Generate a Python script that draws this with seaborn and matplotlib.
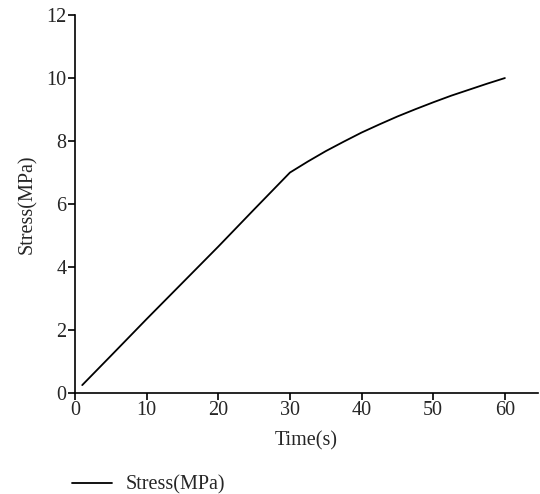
import matplotlib
matplotlib.use("Agg")
import matplotlib.pyplot as plt
import seaborn as sns
import pandas as pd

time_s = [1, 5, 10, 15, 20, 25, 30, 32.5, 35, 37.5, 40, 42.5, 45, 47.5, 50, 52.5, 55, 57.5, 60]
stress_mpa = [0.25, 1.18, 2.35, 3.5, 4.65, 5.83, 7.0, 7.35, 7.68, 7.98, 8.27, 8.53, 8.78, 9.01,
              9.23, 9.44, 9.63, 9.82, 10.0]
x_ticks = [0, 10, 20, 30, 40, 50, 60]
y_ticks = [0, 2, 4, 6, 8, 10, 12]

sns.set_style("ticks")
plt.rcParams['font.family'] = ['Liberation Serif', 'DejaVu Serif']

df = pd.DataFrame({"Time(s)": time_s, "Stress(MPa)": stress_mpa, "series": "Stress(MPa)"})

fig = plt.figure(figsize=(5.4, 4.94), dpi=100)
ax = fig.add_axes([0.139, 0.2045, 0.857, 0.765])
sns.lineplot(data=df, x="Time(s)", y="Stress(MPa)", hue="series", palette=["black"],
             linewidth=1.3, ax=ax, legend=True)
ax.set_xlim(0, 64.6)
ax.set_ylim(0, 12)
ax.set_xticks(x_ticks)
ax.set_yticks(y_ticks)
ax.tick_params(labelsize=14.5, length=5, width=1.2, color="black", pad=1)
ax.set_xlabel("Time(s)", fontsize=14.5, labelpad=8)
ax.set_ylabel("Stress(MPa)", fontsize=14.5, labelpad=7)
for s in ["top", "right"]:
    ax.spines[s].set_visible(False)
for s in ["left", "bottom"]:
    ax.spines[s].set_linewidth(1.2)
    ax.spines[s].set_color("black")

handles, labels = ax.get_legend_handles_labels()
ax.legend(handles, labels, loc="upper left", bbox_to_anchor=(-0.046, -0.17), frameon=False,
          fontsize=14.5, handlelength=2.0, handletextpad=0.65)
fig.savefig("out.png", dpi=100)
